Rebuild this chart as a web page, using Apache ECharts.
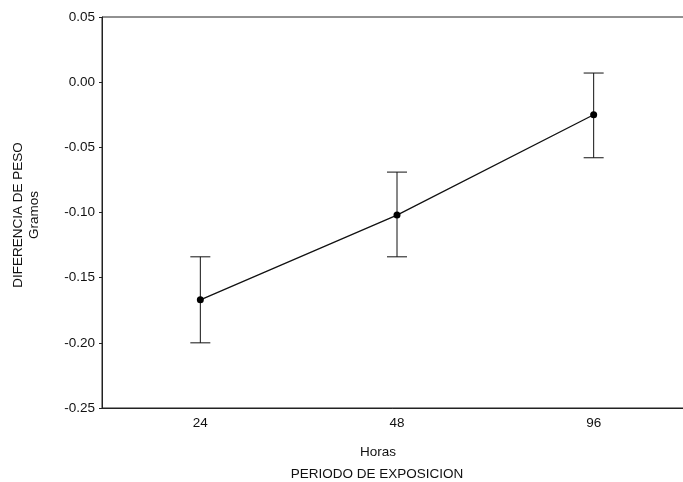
<!DOCTYPE html>
<html><head><meta charset="utf-8">
<script src="https://cdn.jsdelivr.net/npm/echarts@6/dist/echarts.min.js"></script>
<style>html,body{margin:0;padding:0;background:#fff}#c{width:683px;height:482px}</style>
</head><body><div id="c"></div>
<script>
const categories = ['24', '48', '96'];
const means = [-0.167, -0.102, -0.025];
const upper = [-0.134, -0.069, 0.007];
const lower = [-0.200, -0.134, -0.058];
const yTicks = [-0.25, -0.20, -0.15, -0.10, -0.05, 0.00, 0.05];

const chart = echarts.init(document.getElementById('c'));
const font = 'Liberation Sans, Arial, sans-serif';
const fs = 13.5;
const errData = categories.map((c, i) => [i, lower[i], upper[i]]);
chart.setOption({
  animation: false,
  grid: { left: 102, top: 17, height: 391, width: 590, show: true, borderColor: '#222', borderWidth: 1, outerBoundsMode: 'none' },
  xAxis: {
    type: 'category', data: categories, boundaryGap: true,
    axisLine: { onZero: false, lineStyle: { color: '#222', width: 1 } },
    axisTick: { alignWithLabel: true, length: 3, lineStyle: { color: '#222' } },
    axisLabel: { color: '#111', fontFamily: font, fontSize: fs, margin: 8 },
    splitLine: { show: false }
  },
  yAxis: {
    type: 'value', min: yTicks[0], max: yTicks[yTicks.length - 1], interval: 0.05,
    axisLine: { show: true, lineStyle: { color: '#222', width: 1 } },
    axisTick: { show: true, length: 3, lineStyle: { color: '#222' } },
    axisLabel: { color: '#111', fontFamily: font, fontSize: fs, margin: 7, formatter: v => v.toFixed(2) },
    splitLine: { show: false }
  },
  graphic: [
    { type: 'text', x: 378, y: 452, style: { text: 'Horas', fontFamily: font, fontSize: fs, fill: '#111', align: 'center', verticalAlign: 'middle' } },
    { type: 'text', x: 377, y: 474, style: { text: 'PERIODO DE EXPOSICION', fontFamily: font, fontSize: fs, fill: '#111', align: 'center', verticalAlign: 'middle' } },
    { type: 'text', x: 18, y: 215, rotation: Math.PI / 2, style: { text: 'DIFERENCIA DE PESO', fontFamily: font, fontSize: fs, fill: '#111', align: 'center', verticalAlign: 'middle' } },
    { type: 'text', x: 34, y: 215, rotation: Math.PI / 2, style: { text: 'Gramos', fontFamily: font, fontSize: fs, fill: '#111', align: 'center', verticalAlign: 'middle' } }
  ],
  series: [
    {
      type: 'custom',
      data: errData,
      renderItem: function (params, api) {
        const x = api.value(0);
        const lo = api.coord([x, api.value(1)]);
        const hi = api.coord([x, api.value(2)]);
        const hw = 10;
        const st = { stroke: '#111', lineWidth: 1 };
        return {
          type: 'group',
          children: [
            { type: 'line', shape: { x1: hi[0], y1: hi[1], x2: lo[0], y2: lo[1] }, style: st },
            { type: 'line', shape: { x1: hi[0] - hw, y1: hi[1], x2: hi[0] + hw, y2: hi[1] }, style: st },
            { type: 'line', shape: { x1: lo[0] - hw, y1: lo[1], x2: lo[0] + hw, y2: lo[1] }, style: st }
          ]
        };
      },
      z: 1
    },
    {
      type: 'line', data: means, symbol: 'circle', symbolSize: 7,
      lineStyle: { color: '#111', width: 1.3 },
      itemStyle: { color: '#000' }, z: 2
    }
  ]
});
</script></body></html>
